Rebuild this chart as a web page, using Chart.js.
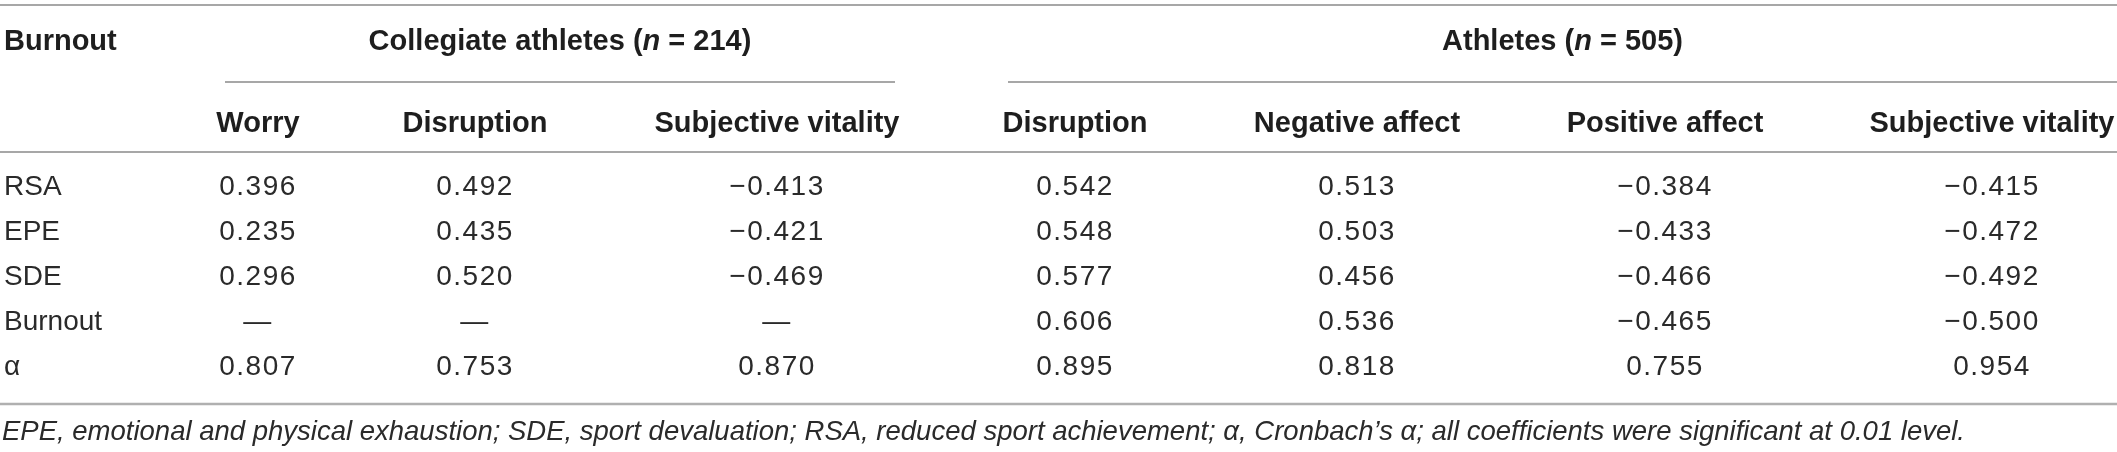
<!DOCTYPE html>
<html>
<head>
<meta charset="utf-8">
<script src="https://cdn.jsdelivr.net/npm/chart.js@4.4.1/dist/chart.umd.min.js"></script>
<style>
  html, body { margin: 0; padding: 0; background: #fff; }
  #wrap { width: 2117px; height: 452px; position: relative; }
</style>
</head>
<body>
<div id="wrap"><canvas id="corrTable"></canvas></div>
<script>
// Datos de la tabla
const rowLabels = ['RSA', 'EPE', 'SDE', 'Burnout', 'α'];
const columnLabels = ['Worry', 'Disruption', 'Subjective vitality', 'Disruption', 'Negative affect', 'Positive affect', 'Subjective vitality'];
const groupLabels = [['Collegiate athletes (', 'n', ' = 214)'], ['Athletes (', 'n', ' = 505)']];
const cornerLabel = 'Burnout';
const footnote = 'EPE, emotional and physical exhaustion; SDE, sport devaluation; RSA, reduced sport achievement; α, Cronbach’s α; all coefficients were significant at 0.01 level.';

// Collegiate athletes (n = 214)
const collegiateWorry      = [0.396, 0.235, 0.296, null, 0.807];
const collegiateDisruption = [0.492, 0.435, 0.520, null, 0.753];
const collegiateVitality   = [-0.413, -0.421, -0.469, null, 0.870];
// Athletes (n = 505)
const athletesDisruption   = [0.542, 0.548, 0.577, 0.606, 0.895];
const athletesNegative     = [0.513, 0.503, 0.456, 0.536, 0.818];
const athletesPositive     = [-0.384, -0.433, -0.466, -0.465, 0.755];
const athletesVitality     = [-0.415, -0.472, -0.492, -0.500, 0.954];

const seriesValues = [collegiateWorry, collegiateDisruption, collegiateVitality,
  athletesDisruption, athletesNegative, athletesPositive, athletesVitality];

// Layout (px)
const W = 2117, H = 452;
const FONT = '"Liberation Sans", Arial, Helvetica, sans-serif';
const colCenters = [258, 475, 777, 1075, 1357, 1665, 1992];
const groupSpans = [[225, 895], [1008, 2117]];
const firstRowPx = 187, rowStepPx = 45;
const rules = { top: 5, group: 82, head: 152, bottom: 404 };
const groupHeaderY = 42, colHeaderY = 124, footY = 432, leftX = 4;

function fmt(v) {
  if (v === null) return '—';
  return v < 0 ? '\u2212' + Math.abs(v).toFixed(3) : v.toFixed(3);
}

function hLine(ctx, x1, x2, y, color, width) {
  ctx.save();
  ctx.strokeStyle = color;
  ctx.lineWidth = width;
  ctx.beginPath();
  ctx.moveTo(x1, y);
  ctx.lineTo(x2, y);
  ctx.stroke();
  ctx.restore();
}

const tablePlugin = {
  id: 'tableText',
  afterDraw(chart) {
    const { ctx, scales: { x, y } } = chart;
    ctx.save();
    ctx.textBaseline = 'middle';

    // Reglas horizontales
    hLine(ctx, 0, W, rules.top, '#8a8a8a', 1.5);
    groupSpans.forEach(s => hLine(ctx, x.getPixelForValue(s[0]), x.getPixelForValue(s[1]), rules.group, '#8a8a8a', 1.5));
    hLine(ctx, 0, W, rules.head, '#8a8a8a', 1.5);
    hLine(ctx, 0, W, rules.bottom, '#b0b0b0', 2.5);

    // Encabezados
    ctx.fillStyle = '#1e1e1e';
    ctx.textAlign = 'left';
    ctx.font = 'bold 29px ' + FONT;
    ctx.fillText(cornerLabel, leftX, groupHeaderY);

    groupLabels.forEach((parts, g) => {
      const fonts = ['bold 29px ' + FONT, 'italic bold 29px ' + FONT, 'bold 29px ' + FONT];
      let total = 0;
      const widths = parts.map((p, k) => { ctx.font = fonts[k]; const w = ctx.measureText(p).width; total += w; return w; });
      const cx = (x.getPixelForValue(groupSpans[g][0]) + x.getPixelForValue(groupSpans[g][1])) / 2;
      let px = cx - total / 2;
      parts.forEach((p, k) => { ctx.font = fonts[k]; ctx.fillText(p, px, groupHeaderY); px += widths[k]; });
    });

    ctx.textAlign = 'center';
    ctx.font = 'bold 29px ' + FONT;
    columnLabels.forEach((lab, j) => ctx.fillText(lab, x.getPixelForValue(colCenters[j]), colHeaderY));

    // Etiquetas de fila
    ctx.fillStyle = '#2a2a2a';
    ctx.textAlign = 'left';
    ctx.font = '28px ' + FONT;
    rowLabels.forEach((lab, i) => ctx.fillText(lab, leftX, y.getPixelForValue(i)));

    // Valores de las celdas
    ctx.textAlign = 'center';
    ctx.font = '28px ' + FONT;
    ctx.letterSpacing = '1.5px';
    chart.data.datasets.forEach((ds, j) => {
      const meta = chart.getDatasetMeta(j);
      meta.data.forEach((pt, i) => {
        ctx.fillText(fmt(seriesValues[j][i]), pt.x, pt.y);
      });
    });
    ctx.letterSpacing = '0px';

    // Nota al pie
    ctx.textAlign = 'left';
    ctx.font = 'italic 27.5px ' + FONT;
    ctx.fillText(footnote, 2, footY);
    ctx.restore();
  }
};

const ctx = document.getElementById('corrTable').getContext('2d');
const corrTable = new Chart(ctx, {
  type: 'scatter',
  data: {
    datasets: seriesValues.map((vals, j) => ({
      label: columnLabels[j],
      data: vals.map((v, i) => ({ x: colCenters[j], y: i })),
      pointRadius: 0,
      pointHoverRadius: 0
    }))
  },
  options: {
    responsive: true,
    maintainAspectRatio: false,
    animation: false,
    events: [],
    layout: { padding: 0 },
    scales: {
      x: { type: 'linear', min: 0, max: W, display: false },
      y: { type: 'linear', reverse: true, min: -firstRowPx / rowStepPx, max: (H - firstRowPx) / rowStepPx, display: false }
    },
    plugins: {
      legend: { display: false },
      tooltip: { enabled: false }
    }
  },
  plugins: [tablePlugin]
});
</script>
</body>
</html>
